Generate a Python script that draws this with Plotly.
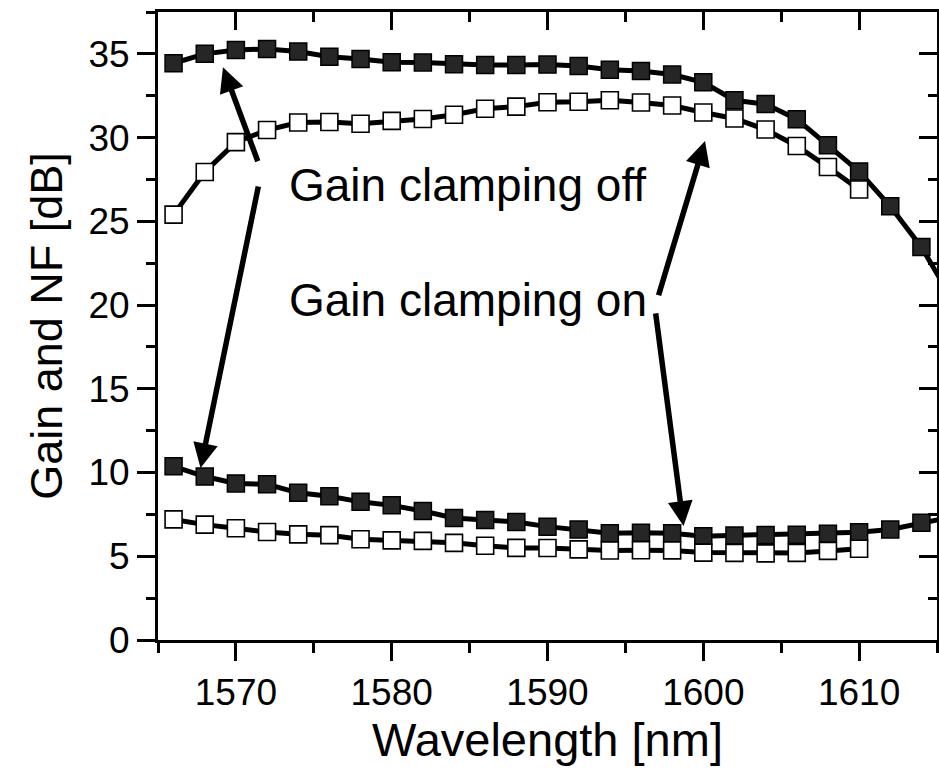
import plotly.graph_objects as go

# ---- data ----
wl_off = [1566, 1568, 1570, 1572, 1574, 1576, 1578, 1580, 1582, 1584, 1586, 1588, 1590,
          1592, 1594, 1596, 1598, 1600, 1602, 1604, 1606, 1608, 1610, 1612, 1614, 1616]
gain_off = [34.44, 35.0, 35.23, 35.29, 35.14, 34.83, 34.7, 34.5, 34.49, 34.38, 34.34, 34.33, 34.36,
            34.28, 34.05, 33.98, 33.77, 33.3, 32.23, 32.0, 31.1, 29.54, 27.98, 25.9, 23.46, 20.3]
nf_off = [10.37, 9.76, 9.35, 9.30, 8.79, 8.58, 8.25, 8.04, 7.70, 7.29, 7.16, 7.05, 6.77,
          6.6, 6.37, 6.4, 6.38, 6.2, 6.24, 6.27, 6.29, 6.35, 6.44, 6.6, 7.0, 7.35]

wl_on = [1566, 1568, 1570, 1572, 1574, 1576, 1578, 1580, 1582, 1584, 1586, 1588, 1590,
         1592, 1594, 1596, 1598, 1600, 1602, 1604, 1606, 1608, 1610]
gain_on = [25.4, 27.95, 29.73, 30.45, 30.9, 30.93, 30.83, 31.0, 31.11, 31.36, 31.72, 31.85, 32.11,
           32.14, 32.23, 32.1, 31.92, 31.5, 31.14, 30.48, 29.5, 28.24, 26.9]
nf_on = [7.2, 6.89, 6.67, 6.45, 6.31, 6.26, 6.02, 5.95, 5.92, 5.8, 5.63, 5.5, 5.49,
         5.41, 5.34, 5.36, 5.35, 5.22, 5.2, 5.17, 5.2, 5.32, 5.45]

x_range = [1565, 1615]
y_range = [0, 37.5]

label_off = "Gain clamping off"
label_on = "Gain clamping on"
x_title = "Wavelength [nm]"
y_title = "Gain and NF [dB]"

FONT = "Liberation Sans, Arial, sans-serif"

fig = go.Figure()

filled_marker = dict(symbol="square", size=17, color="#262626", line=dict(color="black", width=1.5))
open_marker = dict(symbol="square", size=17, color="white", line=dict(color="black", width=1.6))
line_style = dict(color="black", width=5)

fig.add_trace(go.Scatter(x=wl_off, y=gain_off, mode="lines+markers", marker=filled_marker,
                         line=line_style, showlegend=False))
fig.add_trace(go.Scatter(x=wl_off, y=nf_off, mode="lines+markers", marker=filled_marker,
                         line=line_style, showlegend=False))
fig.add_trace(go.Scatter(x=wl_on, y=gain_on, mode="lines+markers", marker=open_marker,
                         line=line_style, showlegend=False))
fig.add_trace(go.Scatter(x=wl_on, y=nf_on, mode="lines+markers", marker=open_marker,
                         line=line_style, showlegend=False))
# dummy trace to create the mirrored top/right axes with inward ticks
fig.add_trace(go.Scatter(x=[x_range[0]], y=[y_range[0]], xaxis="x2", yaxis="y2", mode="markers",
                         marker=dict(opacity=0), showlegend=False, hoverinfo="skip"))

axis_common = dict(showgrid=False, zeroline=False, showline=True, linecolor="black", linewidth=3,
                   tickcolor="black", tickwidth=3, ticklen=18)

fig.update_layout(
    width=939, height=780,
    margin=dict(l=158, r=2, t=12, b=140),
    paper_bgcolor="white", plot_bgcolor="white",
    font=dict(family=FONT, color="black"),
    xaxis=dict(range=x_range, tick0=1570, dtick=10, ticks="outside",
               tickfont=dict(size=37, family=FONT),
               minor=dict(dtick=5, ticks="outside", ticklen=10, tickwidth=3, tickcolor="black"),
               title=dict(text=x_title, font=dict(size=47, family=FONT), standoff=8),
               **axis_common),
    yaxis=dict(range=y_range, tick0=0, dtick=5, ticks="outside",
               tickfont=dict(size=37, family=FONT),
               minor=dict(dtick=2.5, ticks="outside", ticklen=9, tickwidth=3, tickcolor="black"),
               title=dict(text=y_title, font=dict(size=45, family=FONT), standoff=12),
               **axis_common),
    xaxis2=dict(range=x_range, overlaying="x", side="top", anchor="y", tick0=1570, dtick=10,
                ticks="inside", showticklabels=False,
                minor=dict(dtick=5, ticks="inside", ticklen=10, tickwidth=3, tickcolor="black"),
                **axis_common),
    yaxis2=dict(range=y_range, overlaying="y", side="right", anchor="x", tick0=0, dtick=5,
                ticks="inside", showticklabels=False,
                minor=dict(dtick=2.5, ticks="inside", ticklen=9, tickwidth=3, tickcolor="black"),
                **axis_common),
)

arrow_common = dict(showarrow=True, arrowhead=2, arrowsize=0.9, arrowwidth=5.5, arrowcolor="black",
                    xref="x", yref="y", axref="x", ayref="y", text="")
# arrows: (tip x, tip y, tail x, tail y)
arrows = [
    (1569.17, 34.2, 1571.44, 28.5),
    (1567.73, 10.27, 1571.46, 27.17),
    (1600.11, 29.8, 1597.1, 20.5),
    (1598.73, 6.81, 1596.93, 19.6),
]
for tx, ty, sx, sy in arrows:
    fig.add_annotation(x=tx, y=ty, ax=sx, ay=sy, **arrow_common)

fig.add_annotation(x=1573.3, y=27.15, text=label_off, showarrow=False, xanchor="left",
                   yanchor="middle", font=dict(size=46, family=FONT, color="black"))
fig.add_annotation(x=1573.3, y=20.3, text=label_on, showarrow=False, xanchor="left",
                   yanchor="middle", font=dict(size=46, family=FONT, color="black"))

fig.write_html("out.html")
